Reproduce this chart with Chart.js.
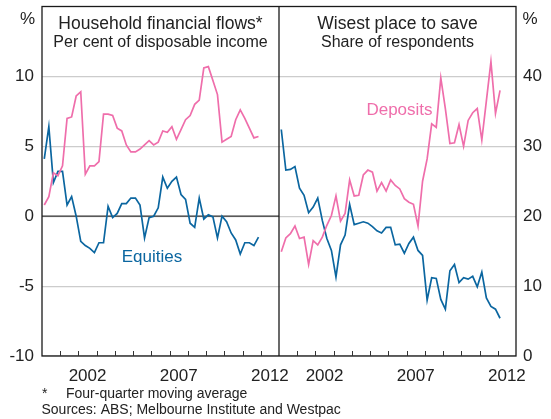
<!DOCTYPE html>
<html>
<head>
<meta charset="utf-8">
<script src="https://cdn.jsdelivr.net/npm/chart.js@4.4.1/dist/chart.umd.min.js"></script>
<style>
  html, body { margin: 0; padding: 0; background: #fff; }
  #wrap { position: relative; width: 551px; height: 419px; }
</style>
</head>
<body>
<div id="wrap"><canvas id="savingChart" width="551" height="419"></canvas></div>
<script>
// Household financial flows, per cent of disposable income (quarterly, 2000 Q1 - 2011 Q4)
const flowDeposits = [0.8, 1.4, 3.1, 2.9, 3.6, 7.0, 7.1, 8.6, 8.9, 3.0, 3.6, 3.6, 3.9, 7.3, 7.3, 7.2,
  6.3, 6.1, 5.1, 4.6, 4.6, 4.8, 5.1, 5.4, 5.1, 5.3, 6.1, 6.0, 6.4, 5.5, 6.2, 6.9,
  7.2, 8.0, 8.3, 10.6, 10.7, 9.7, 8.7, 5.3, 5.5, 5.7, 6.9, 7.6, 7.0, 6.3, 5.6, 5.7];
const flowEquities = [4.1, 6.4, 2.4, 3.2, 3.2, 0.8, 1.4, 0.0, -1.8, -2.1, -2.3, -2.6, -1.9, -1.9, 0.7, -0.1,
  0.2, 0.9, 0.9, 1.3, 1.3, 0.8, -1.55, -0.1, 0.0, 0.6, 2.8, 2.0, 2.5, 2.8, 1.55, 1.2,
  -0.5, -0.8, 1.3, -0.2, 0.1, -0.05, -1.55, 0.0, -0.4, -1.2, -1.7, -2.7, -1.9, -1.9, -2.1, -1.5];

// Wisest place to save, share of respondents (quarterly, 2000 Q1 - 2012 Q1)
const surveyDeposits = [14.9, 16.9, 17.5, 18.6, 16.8, 17.0, 13.1, 16.5, 15.9, 17.0, 18.7, 20.1, 22.9, 19.3, 20.4, 25.2,
  22.9, 23.0, 25.9, 26.6, 26.3, 23.6, 24.8, 23.6, 25.2, 24.4, 23.9, 22.5, 22.0, 21.7, 18.6, 25.0,
  28.2, 33.2, 32.7, 39.8, 35.4, 30.4, 30.5, 33.1, 30.0, 33.7, 34.8, 35.4, 30.9, 36.5, 42.1, 34.7, 38.0];
const surveyEquities = [32.4, 26.6, 26.7, 27.1, 24.0, 23.0, 20.5, 21.3, 22.6, 19.4, 16.8, 15.1, 11.3, 15.9, 17.3, 21.7,
  18.8, 19.0, 19.2, 19.0, 18.5, 17.9, 17.6, 18.4, 18.4, 15.9, 16.0, 14.7, 16.1, 17.0, 15.1, 14.4,
  8.0, 11.2, 11.1, 8.1, 6.7, 12.2, 13.1, 10.5, 11.2, 11.0, 11.4, 9.9, 12.0, 8.3, 7.1, 6.7, 5.4];

// Axis labels
const startYear = 2000;
const panelYears = 13;              // each panel runs 2000 to 2013
const yearLabels = ['2002', '2007', '2012'];
const leftTicks = [-10, -5, 0, 5, 10];
const rightTicks = [0, 10, 20, 30, 40];

const PINK = '#ef6eab';
const BLUE = '#0b66a0';
const INK = '#222';
const FONT = '"Liberation Sans", Arial, Helvetica, sans-serif';

// quarter mid-points, second panel shifted by one panel width
function toPoints(values, panel) {
    return values.map((v, i) => ({ x: panel * panelYears + (i + 0.5) / 4, y: v }));
}

// label positions: middle of each labelled year, in both panels
const yearLabelPos = [];
[0, 1].forEach(panel => {
    yearLabels.forEach(lbl => {
        yearLabelPos.push({ value: panel * panelYears + (Number(lbl) - startYear) + 0.5, label: lbl });
    });
});

function line(data, color, axis) {
    return {
        data: data,
        yAxisID: axis,
        borderColor: color,
        borderWidth: 1.7,
        pointRadius: 0,
        tension: 0,
        fill: false
    };
}

const panelDecor = {
    id: 'panelDecor',
    beforeDatasetsDraw(chart) {
        // zero line, left panel only
        const { ctx, chartArea: a, scales: { x, yL } } = chart;
        const y0 = yL.getPixelForValue(0);
        ctx.save();
        ctx.strokeStyle = '#333';
        ctx.lineWidth = 1.2;
        ctx.beginPath();
        ctx.moveTo(a.left, y0);
        ctx.lineTo(x.getPixelForValue(panelYears), y0);
        ctx.stroke();
        ctx.restore();
    },
    afterDraw(chart) {
        const { ctx, chartArea: a, scales: { x } } = chart;
        const mid = x.getPixelForValue(panelYears);
        ctx.save();

        // frame and divider
        ctx.strokeStyle = '#1a1a1a';
        ctx.lineWidth = 1.3;
        ctx.strokeRect(a.left, a.top, a.right - a.left, a.bottom - a.top);
        ctx.beginPath();
        ctx.moveTo(mid, a.top);
        ctx.lineTo(mid, a.bottom);
        ctx.stroke();

        // year ticks pointing into the plot
        ctx.lineWidth = 1;
        ctx.strokeStyle = '#333';
        ctx.beginPath();
        for (let v = 1; v < 2 * panelYears; v++) {
            if (v === panelYears) continue;
            const px = Math.round(x.getPixelForValue(v)) + 0.5;
            ctx.moveTo(px, a.bottom);
            ctx.lineTo(px, a.bottom - 5);
        }
        ctx.stroke();

        // panel titles
        ctx.fillStyle = INK;
        ctx.textAlign = 'center';
        ctx.textBaseline = 'alphabetic';
        const leftMid = (a.left + mid) / 2;
        const rightMid = (mid + a.right) / 2;
        ctx.font = '17.5px ' + FONT;
        ctx.fillText('Household financial flows*', leftMid, 28.5);
        ctx.fillText('Wisest place to save', rightMid, 28.5);
        ctx.font = '16px ' + FONT;
        ctx.fillText('Per cent of disposable income', leftMid, 47);
        ctx.fillText('Share of respondents', rightMid, 47);

        // unit markers
        ctx.font = '17px ' + FONT;
        ctx.fillText('%', 27.5, 23.5);
        ctx.fillText('%', 530, 23.5);

        // series labels
        ctx.fillStyle = PINK;
        ctx.fillText('Deposits', 399.5, 115);
        ctx.fillStyle = BLUE;
        ctx.fillText('Equities', 152, 261.5);

        // footnotes
        ctx.fillStyle = INK;
        ctx.textAlign = 'left';
        ctx.font = '14px ' + FONT;
        ctx.fillText('*', 42, 398);
        ctx.fillText('Four-quarter moving average', 66, 398);
        ctx.fillText('Sources: ABS; Melbourne Institute and Westpac', 41.5, 414);
        ctx.restore();
    }
};

new Chart(document.getElementById('savingChart'), {
    type: 'line',
    data: {
        datasets: [
            line(toPoints(flowDeposits, 0), PINK, 'yL'),
            line(toPoints(flowEquities, 0), BLUE, 'yL'),
            line(toPoints(surveyDeposits, 1), PINK, 'yR'),
            line(toPoints(surveyEquities, 1), BLUE, 'yR')
        ]
    },
    options: {
        responsive: false,
        animation: false,
        layout: { padding: { top: 6.5, left: 0, right: 0, bottom: 0 } },
        plugins: {
            legend: { display: false },
            tooltip: { enabled: false }
        },
        scales: {
            x: {
                type: 'linear',
                min: 0,
                max: 2 * panelYears,
                afterBuildTicks: s => { s.ticks = yearLabelPos.map(t => ({ value: t.value })); },
                afterFit: s => { s.height = 63; s.paddingLeft = 0; s.paddingRight = 0; },
                ticks: {
                    autoSkip: false,
                    maxRotation: 0,
                    padding: 10,
                    color: INK,
                    font: { family: FONT, size: 17 },
                    callback: (v, i) => yearLabelPos[i].label
                },
                grid: { display: false, drawTicks: false },
                border: { display: false }
            },
            yL: {
                type: 'linear',
                position: 'left',
                min: -10,
                max: 15,
                afterBuildTicks: s => { s.ticks = leftTicks.map(v => ({ value: v })); },
                afterFit: s => { s.width = 42; s.paddingTop = 0; s.paddingBottom = 0; },
                ticks: {
                    padding: 8,
                    color: INK,
                    font: { family: FONT, size: 17 },
                    callback: v => String(v)
                },
                grid: { color: '#cccccc', lineWidth: 1.2, drawTicks: false },
                border: { display: false }
            },
            yR: {
                type: 'linear',
                position: 'right',
                min: 0,
                max: 50,
                afterBuildTicks: s => { s.ticks = rightTicks.map(v => ({ value: v })); },
                afterFit: s => { s.width = 35; s.paddingTop = 0; s.paddingBottom = 0; },
                ticks: {
                    padding: 7,
                    color: INK,
                    font: { family: FONT, size: 17 },
                    callback: v => String(v)
                },
                grid: { drawOnChartArea: false, drawTicks: false },
                border: { display: false }
            }
        }
    },
    plugins: [panelDecor]
});
</script>
</body>
</html>
